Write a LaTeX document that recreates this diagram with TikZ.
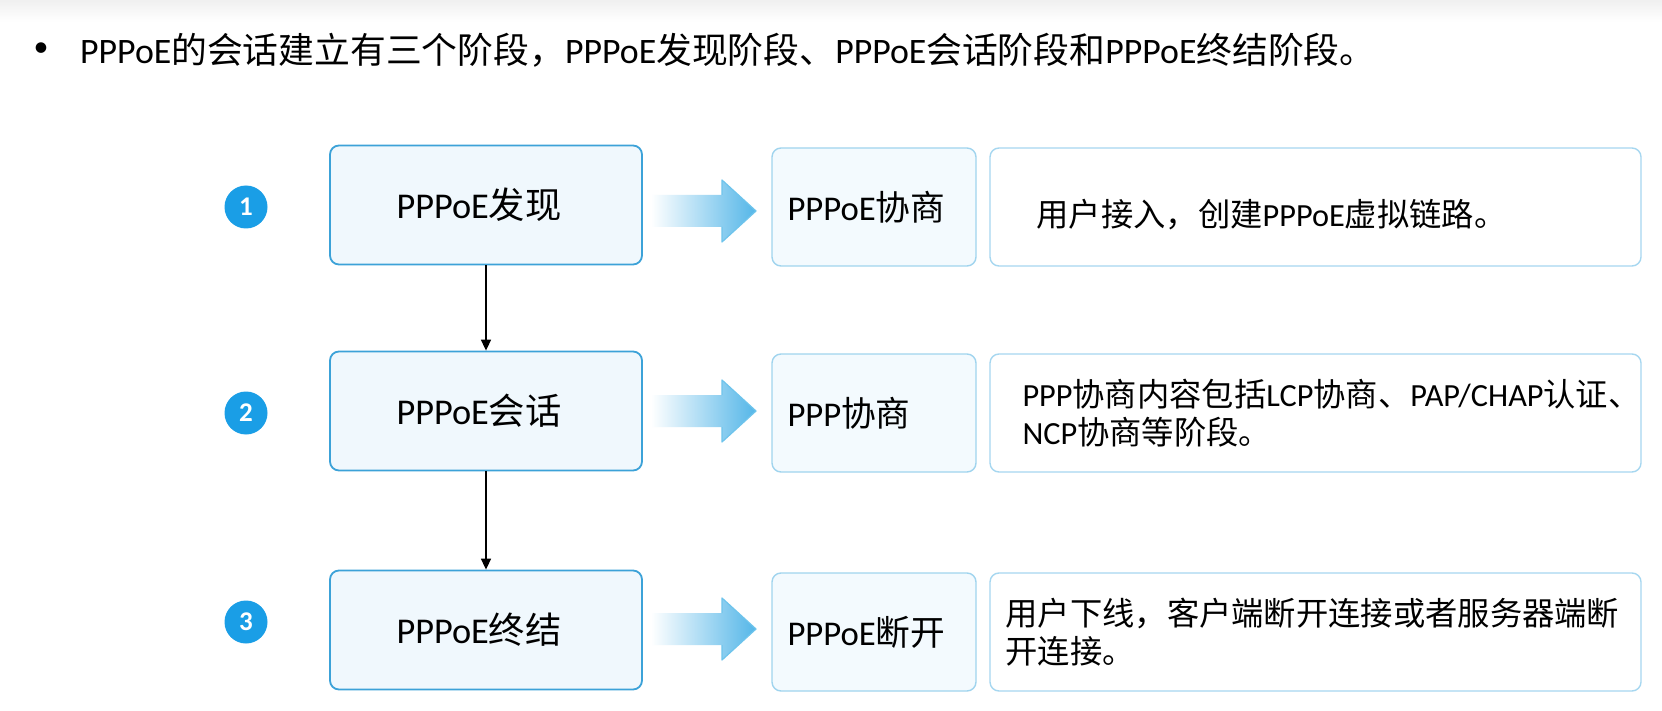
\documentclass[tikz,border=0pt]{standalone}
\usepackage{fontspec}
\setmainfont{Carlito}
\newfontfamily\cjk{Noto Sans CJK SC}
\usetikzlibrary{arrows.meta,shadings}
\definecolor{numblue}{RGB}{26,158,230}
\definecolor{lborder}{RGB}{60,162,216}
\definecolor{lfill}{RGB}{240,248,253}
\definecolor{mborder}{RGB}{160,212,238}
\definecolor{mfill}{RGB}{243,250,254}
\definecolor{rborder}{RGB}{166,215,240}
\definecolor{arrowblue}{RGB}{84,182,232}
\definecolor{arrowedge}{RGB}{110,196,236}
\begin{document}
\begin{tikzpicture}[x=1pt,y=-1pt,
  stagebox/.style={draw=lborder,line width=1.8pt,fill=lfill,rounded corners=9pt,
    minimum width=312pt,minimum height=119pt,inner sep=0pt,
    font=\fontsize{36.3}{42}\selectfont},
  midbox/.style={draw=mborder,line width=1.4pt,fill=mfill,rounded corners=9pt,
    minimum width=204pt,minimum height=118pt,inner sep=0pt},
  descbox/.style={draw=rborder,line width=1.4pt,fill=white,rounded corners=9pt,
    minimum width=651pt,minimum height=118pt,inner sep=0pt},
  midtext/.style={anchor=west,inner sep=0pt,font=\fontsize{34.7}{40}\selectfont},
  desctext/.style={anchor=west,inner sep=0pt,align=left,font=\fontsize{32.3}{38.5}\selectfont},
  numcircle/.style={circle,fill=numblue,minimum size=43pt,inner sep=0pt,
    text=white,font=\fontsize{27}{28}\selectfont\bfseries},
  flow/.style={line width=1.6pt,-{Triangle[length=11pt,width=10pt]}},
  blockarrow/.style={left color=white,right color=arrowblue,draw=none},
  headedge/.style={draw=arrowedge,line width=1.2pt,line join=round}
]
\useasboundingbox (0,0) rectangle (1662,711);
\fill[white] (0,0) rectangle (1662,711);
\shade[top color=black!6,bottom color=white] (0,0) rectangle (1662,22);

% title
\node[anchor=center,inner sep=0pt,font=\fontsize{30}{34}\selectfont] (bul) at (41,50) {•};
\node[anchor=west,inner sep=0pt,font=\fontsize{35.8}{40}\selectfont] (title) at (80,50)
  {PPPoE{\cjk 的会话建立有三个阶段，}PPPoE{\cjk 发现阶段、}PPPoE{\cjk 会话阶段和}PPPoE{\cjk 终结阶段。}};

% numbers
\node[numcircle] (c1) at (246,207) {1};
\node[numcircle] (c2) at (246,413) {2};
\node[numcircle] (c3) at (246,622) {3};

% stage boxes
\node[stagebox] (d1) at (486,205) {PPPoE{\cjk 发现}\hspace*{14pt}};
\node[stagebox] (d2) at (486,411) {PPPoE{\cjk 会话}\hspace*{14pt}};
\node[stagebox] (d3) at (486,630) {PPPoE{\cjk 终结}\hspace*{14pt}};

\draw[flow] (d1.south) -- (d2.north);
\draw[flow] (d2.south) -- (d3.north);

% block arrows
\foreach \cy in {211,411,629}{
  \path[blockarrow] (651,\cy-16) -- (722,\cy-16) -- (722,\cy-31) -- (756,\cy)
     -- (722,\cy+31) -- (722,\cy+16) -- (651,\cy+16) -- cycle;
  \draw[headedge] (722,\cy-16) -- (722,\cy-31) -- (756,\cy) -- (722,\cy+31) -- (722,\cy+16);
}

% middle boxes
\node[midbox] (m1) at (874,207) {};
\node[midbox] (m2) at (874,413) {};
\node[midbox] (m3) at (874,632) {};
\node[midtext] (m1t) at ([xshift=16pt]m1.west) {PPPoE{\cjk 协商}};
\node[midtext] (m2t) at ([xshift=16pt]m2.west) {PPP{\cjk 协商}};
\node[midtext] (m3t) at ([xshift=16pt]m3.west) {PPPoE{\cjk 断开}};

% description boxes
\node[descbox] (r1) at (1315.5,207) {};
\node[descbox] (r2) at (1315.5,413) {};
\node[descbox] (r3) at (1315.5,632) {};
\node[desctext] (r1t) at ([xshift=47pt,yshift=-8pt]r1.west)
  {{\cjk 用户接入，创建}PPPoE{\cjk 虚拟链路。}};
\node[desctext] (r2t) at ([xshift=33pt]r2.west)
  {PPP{\cjk 协商内容包括}LCP{\cjk 协商、}PAP/CHAP{\cjk 认证、}\\NCP{\cjk 协商等阶段。}};
\node[desctext] (r3t) at ([xshift=16pt]r3.west)
  {{\cjk 用户下线，客户端断开连接或者服务器端断}\\{\cjk 开连接。}};
\end{tikzpicture}
\end{document}
